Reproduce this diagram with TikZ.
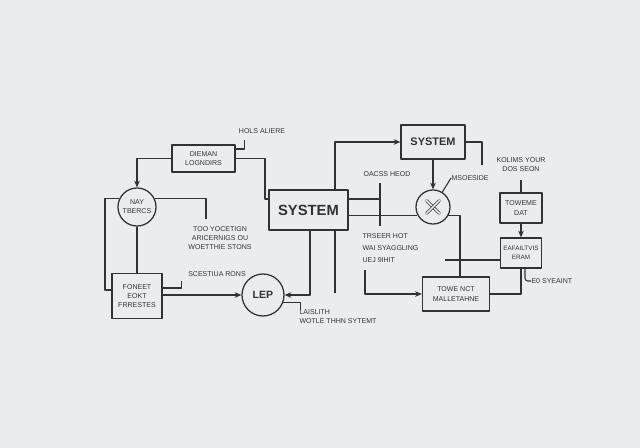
\documentclass[tikz,border=0pt]{standalone}
\usepackage{fontspec}
\setmainfont{Liberation Sans}
\usetikzlibrary{calc,arrows.meta}
\definecolor{bgcol}{RGB}{234,237,240}
\definecolor{inkcol}{RGB}{50,50,50}
\newcommand{\pxl}{0.025cm}
\begin{document}
\begin{tikzpicture}[x=\pxl, y=-\pxl, line join=round, >={Stealth[length=4.8pt,width=4pt]}, line width=0.75pt, color=inkcol]

		\tikzset{box/.style={draw, line width=0.9pt, align=center, inner sep=1pt, font=\fontsize{5}{6.5}\selectfont},
			ring/.style={draw, circle, line width=0.9pt, inner sep=0pt, align=center, font=\fontsize{5}{6.5}\selectfont},
			note/.style={inner sep=0pt, align=center, font=\fontsize{5}{6.5}\selectfont}}

		\fill[bgcol] (0,0) rectangle (640,448);
		\useasboundingbox (0,0) rectangle (640,448);

		\node[box, minimum width=63*\pxl, minimum height=27*\pxl] (dieman) at (203.5,158.5) {DIEMAN\\LOGNDIRS};
		\node[ring, minimum size=38*\pxl] (nay) at (137,207) {NAY\\TBERCS};
		\node[box, minimum width=50*\pxl, minimum height=45*\pxl] (foneet) at (137,296) {FONEET\\EOKT\\FRRESTES};
		\node[box, minimum width=79*\pxl, minimum height=40*\pxl, font=\fontsize{10.5}{12}\selectfont\bfseries] (sysmain) at (308.5,210) {SYSTEM};
		\node[ring, minimum size=42*\pxl, font=\fontsize{7.5}{9}\selectfont\bfseries] (lep) at (263,295) {LEP};
		\node[box, minimum width=64*\pxl, minimum height=34*\pxl, font=\fontsize{7.8}{9}\selectfont\bfseries] (systop) at (433,142) {SYSTEM};
		\node[ring, minimum size=34*\pxl] (xcirc) at (433,207) {};
		\node[box, minimum width=42*\pxl, minimum height=30*\pxl] (towemeb) at (521,208) {TOWEME\\DAT};
		\node[box, minimum width=41*\pxl, minimum height=30*\pxl, font=\fontsize{4.5}{6.5}\selectfont] (eafail) at (521,253) {EAFAILTVIS\\ERAM};
		\node[box, minimum width=67*\pxl, minimum height=34*\pxl] (towenct) at (456,294) {TOWE NCT\\MALLETAHNE};

		\node[note] (holsaliere) at (262,131) {HOLS ALIERE};
		\node[note] (tooyoc) at (220,238) {TOO YOCETIGN\\ARICERNIGS OU\\WOETTHIE STONS};
		\node[note] (scestiua) at (217,274) {SCESTIUA RONS};
		\node[note, anchor=north west, align=left] (laislith) at (299,309) {LAISLITH\\WOTLE THHN SYTEMT};
		\node[note] (oacss) at (387,174) {OACSS HEOD};
		\node[note, anchor=west] (msoeside) at (451,178) {MSOESIDE};
		\node[note, anchor=north west, align=left, font=\fontsize{5}{8.5}\selectfont] (trseer) at (362,233) {TRSEER HOT\\WAI SYAGGLING\\UEJ 9IHIT};
		\node[note] (kolims) at (521,165) {KOLIMS YOUR\\DOS SEON};
		\node[note, anchor=west] (e0) at (531,281) {E0 SYEAINT};

		\coordinate (j1) at (265,199);
		\coordinate (j2) at (105,290);
		\coordinate (e1) at (206,219);
		\coordinate (e2) at (335,293);
		\coordinate (e3) at (482,165);
		\coordinate (e4) at (365,270);
		\coordinate (e5) at (521,180);
		\coordinate (e6) at (445,260);
		\coordinate (k1) at (380,183);
		\coordinate (k2) at (380,226);

		\draw[->] (dieman.west) -| (nay.north);
		\draw (dieman.east) -| (j1) -- (j1 -| sysmain.west);
		\draw ($(dieman.east)+(0,-9.5)$) -- ++(9,0) -- ++(0,-9);
		\draw (nay.155) -| (j2) -- (j2 -| foneet.west);
		\draw (nay.25) -| (e1);
		\draw (nay.south) -- (foneet.north);
		\draw ($(foneet.east)+(0,-8)$) -- ++(19,0) -- ++(0,-7);
		\draw[->] (foneet.east |- lep) -- (lep.west);
		\draw[->] ($(sysmain.south)+(1.5,0)$) |- (lep.east);
		\draw (e2 |- sysmain.south) -- (e2);
		\draw[->] (e2 |- sysmain.north) |- (systop.west);
		\draw (lep.-20) -- ++(17,0) -- ++(0,8);
		\draw (systop.east) -| (e3);
		\draw[->] (systop.south) -- (xcirc.north);
		\draw (xcirc.58) -- (msoeside.west);
		\draw (xcirc.208) -- (xcirc.208 -| sysmain.east);
		\draw ($(sysmain.east)+(0,-11)$) coordinate (s1) -- (s1 -| k1);
		\draw (k1) -- (k2);
		\draw (xcirc.-30) -| ($(towenct.north)+(4,0)$);
		\draw[->] (e4) |- (towenct.west);
		\draw (e5) -- (towemeb.north);
		\draw[->] (towemeb.south) -- (eafail.north);
		\draw (eafail.south) |- (towenct.east);
		\draw (e6) -- (e6 -| eafail.west);
		\draw[rounded corners=2pt] ($(eafail.south)+(4,0)$) |- (e0.west);
		\foreach \a in {45,135}
		\draw[line width=0.5pt, double=bgcol, double distance=1.1pt, line cap=round] ($(xcirc.center)+(\a:9)$) -- ($(xcirc.center)+(\a+180:9)$);
		\end{tikzpicture}
\end{document}
